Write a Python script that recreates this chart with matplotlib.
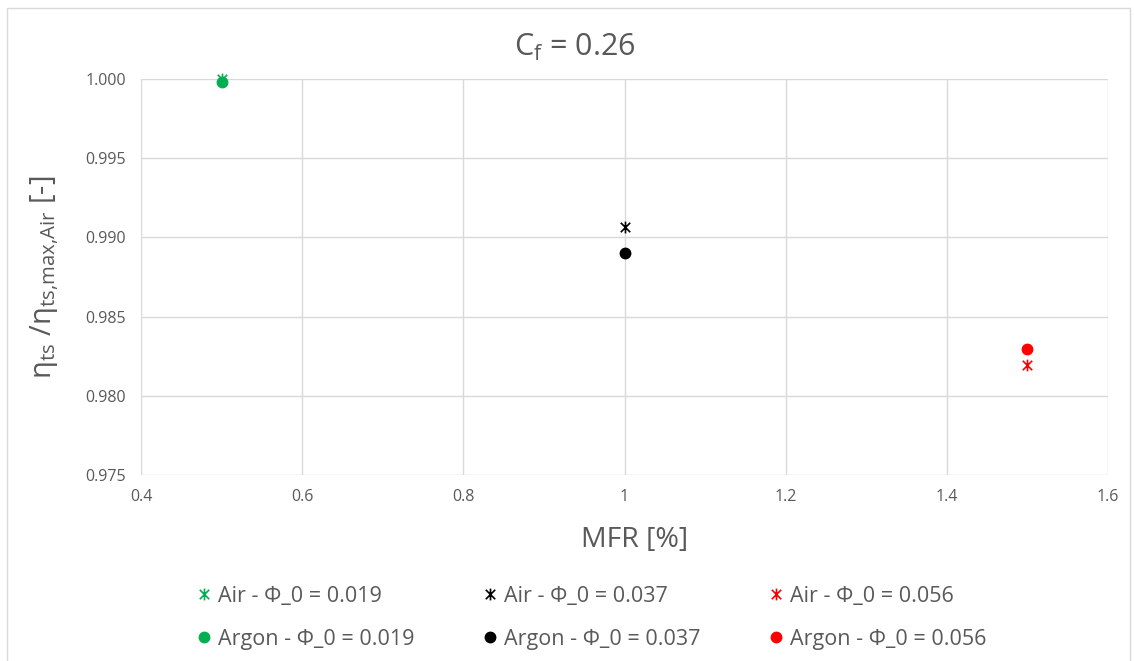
import matplotlib
matplotlib.use("Agg")
import matplotlib.pyplot as plt
from matplotlib.path import Path
from matplotlib.patches import Rectangle

plt.rcParams['font.family'] = ['Open Sans', 'DejaVu Sans']
plt.rcParams['mathtext.default'] = 'regular'

# Data
mfr = [0.5, 1.0, 1.5]
air_eff = [1.0000, 0.99066, 0.98194]
argon_eff = [0.99981, 0.98902, 0.98295]
phi_labels = ["0.019", "0.037", "0.056"]
colors = ["#00B050", "#000000", "#FF0000"]

xticks = [0.4, 0.6, 0.8, 1.0, 1.2, 1.4, 1.6]
xtick_labels = ["0.4", "0.6", "0.8", "1", "1.2", "1.4", "1.6"]
yticks = [0.975, 0.980, 0.985, 0.990, 0.995, 1.000]

# asterisk-like marker (x with vertical bar)
star = Path([(-1, -1), (1, 1), (-1, 1), (1, -1), (0, -1.25), (0, 1.25)],
            [Path.MOVETO, Path.LINETO, Path.MOVETO, Path.LINETO, Path.MOVETO, Path.LINETO])

fig = plt.figure(figsize=(11.34, 6.61), dpi=100)
fig.patches.append(Rectangle((7/1134, -0.01), 1123/1134, 1 - 8/661 + 0.01,
                             transform=fig.transFigure, fill=False,
                             edgecolor="#D9D9D9", linewidth=1))
ax = fig.add_axes([141/1134, 1 - 475/661, (1108-141)/1134, (475-79)/661])

handles = []
for i in range(3):
    h1, = ax.plot([mfr[i]], [air_eff[i]], linestyle='none', marker=star,
                  markersize=8.5, markeredgewidth=1.2, color=colors[i],
                  label=f"Air - Φ_0 = {phi_labels[i]}", zorder=3, clip_on=False)
    h2, = ax.plot([mfr[i]], [argon_eff[i]], linestyle='none', marker='o',
                  markersize=7.5, color=colors[i],
                  label=f"Argon - Φ_0 = {phi_labels[i]}", zorder=3, clip_on=False)
    handles += [h1, h2]

ax.set_xlim(0.4, 1.6)
ax.set_ylim(0.975, 1.000)
ax.set_xticks(xticks)
ax.set_xticklabels(xtick_labels)
ax.set_yticks(yticks)
ax.set_yticklabels([f"{v:.3f}" for v in yticks])
ax.grid(True, color="#D9D9D9", linewidth=1)
ax.set_axisbelow(True)
for s in ax.spines.values():
    s.set_visible(False)
ax.tick_params(length=0, labelsize=11.5, labelcolor="#595959")
ax.tick_params(axis='y', pad=11)
ax.tick_params(axis='x', pad=10)

fig.text(575/1134, 1 - 47/661, "C$_f$ = 0.26", fontsize=22, color="#595959",
         ha='center', va='center')
ax.set_xlabel("MFR [%]", fontsize=20.5, color="#595959")
ax.xaxis.set_label_coords((635-141)/(1108-141), -(540-475)/(475-79))
ax.xaxis.label.set_va('center')
ax.set_ylabel("η$_{ts}$ /η$_{ts{,}max{,}Air}$ [-]", fontsize=21, color="#595959")
ax.yaxis.set_label_coords(-(141-45)/(1108-141), 0.5)
ax.yaxis.label.set_va('center')

leg = fig.legend(handles=handles, loc='upper left', bbox_to_anchor=(198/1134, 1 - 586/661),
                 ncol=3, frameon=False, fontsize=15.5, labelcolor="#595959",
                 columnspacing=3.2, handlelength=0.6, handletextpad=0.35,
                 labelspacing=1.0, borderpad=0, borderaxespad=0)

fig.savefig("out.png", dpi=100)
